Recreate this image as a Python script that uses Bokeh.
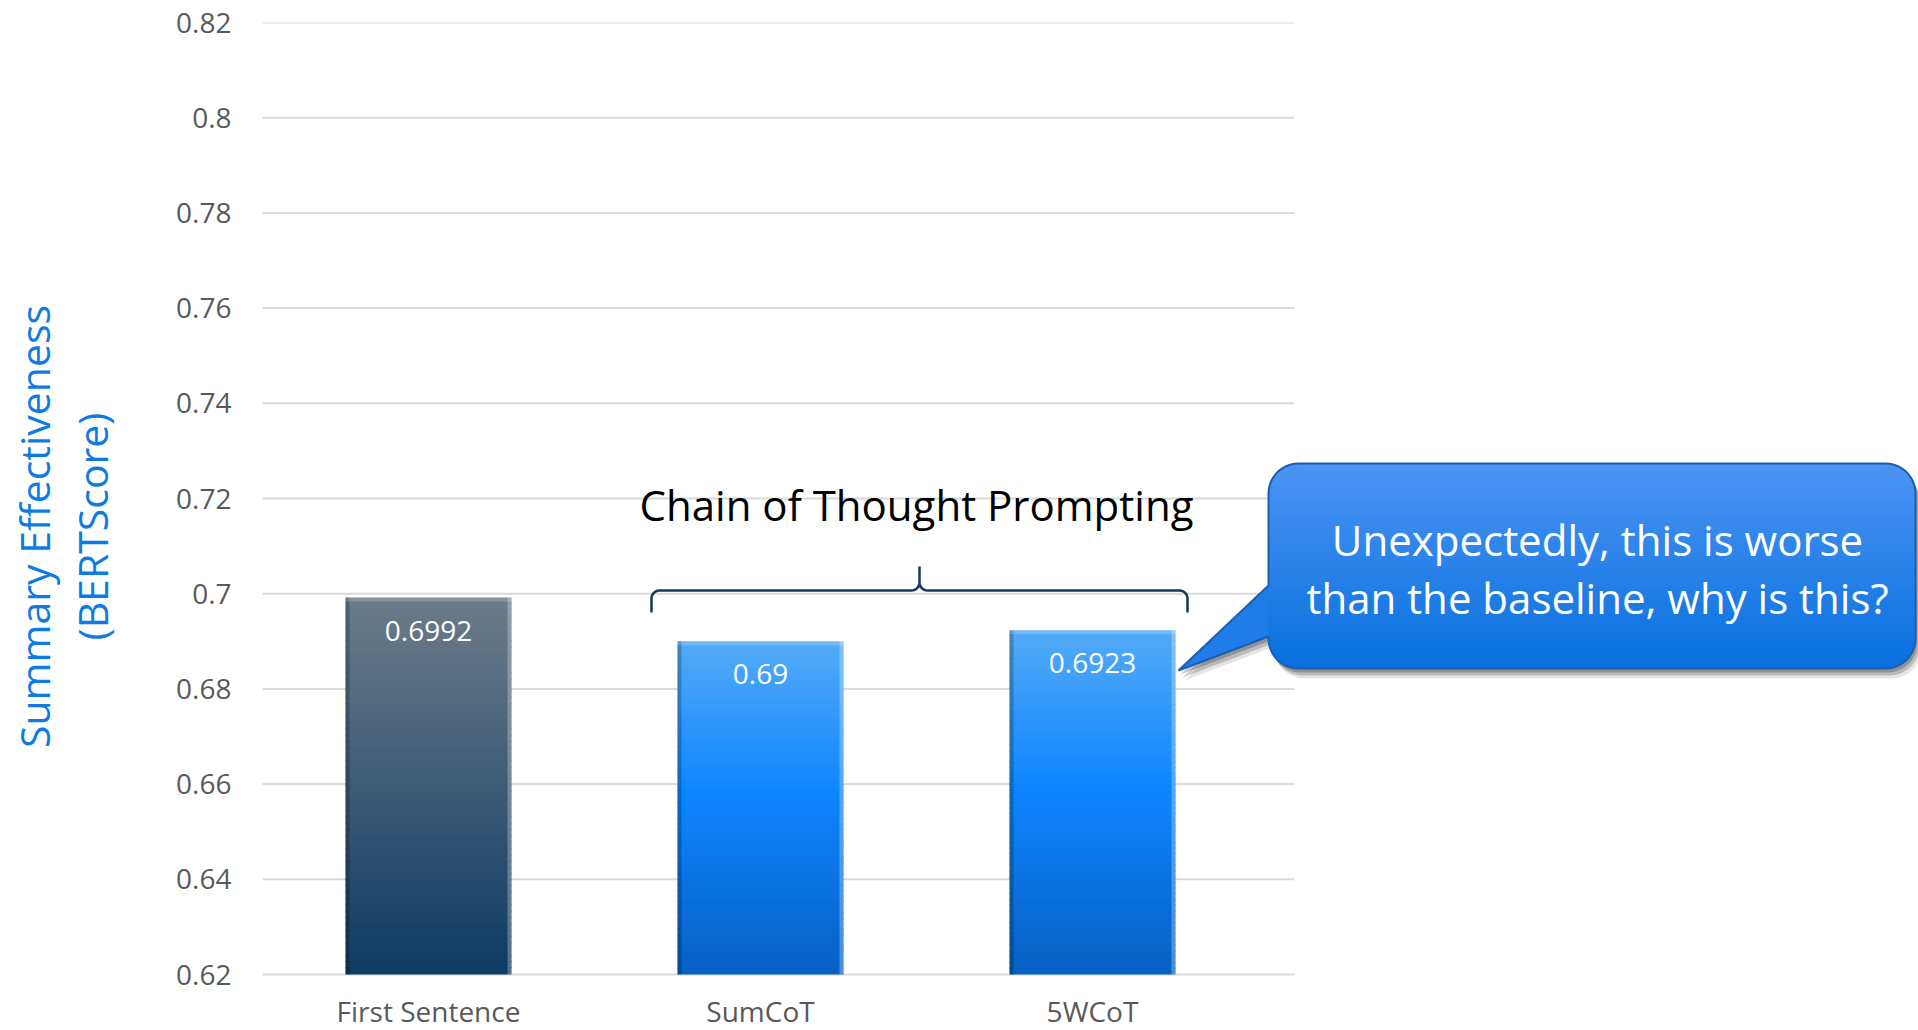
import numpy as np
from bokeh.plotting import figure
from bokeh.models import Range1d, FixedTicker, Label
from bokeh.embed import file_html
from bokeh.resources import INLINE
from bokeh.core.properties import value

# ---------------- data ----------------
categories = ["First Sentence", "SumCoT", "5WCoT"]
scores = [0.6992, 0.69, 0.6923]
score_labels = ["0.6992", "0.69", "0.6923"]
y_ticks = [0.62, 0.64, 0.66, 0.68, 0.70, 0.72, 0.74, 0.76, 0.78, 0.80, 0.82]
y_tick_labels = ["0.62", "0.64", "0.66", "0.68", "0.7", "0.72", "0.74", "0.76", "0.78", "0.8", "0.82"]
axis_title = ["Summary Effectiveness", "(BERTScore)"]
group_label = "Chain of Thought Prompting"
group_members = [1, 2]
callout_lines = ["Unexpectedly, this is worse", "than the baseline, why is this?"]

# ---------------- styles ----------------
bar_stops = [
    [(0.0, "#6B7C8A"), (1.0, "#0F3A62")],
    [(0.0, "#55ABF6"), (0.45, "#0E86FF"), (1.0, "#0760C4")],
    [(0.0, "#55ABF6"), (0.45, "#0E86FF"), (1.0, "#0760C4")],
]
FONT = "Open Sans"
W, H = 1918, 1030
FL, FR, FT, FB = 262, 1918, 22, 974      # FB: pixel row of the baseline value
PX_PER_CAT = 332.0
BAR_W = 0.5
x0 = -0.5
x_end = x0 + (FR - FL) / PX_PER_CAT
y_lo, y_hi = y_ticks[0], y_ticks[-1]
PX_PER_Y = (FB - FT) / (y_hi - y_lo)


def X(px):
    return x0 + (px - FL) / PX_PER_CAT


def Y(py):
    return y_hi - (py - FT) / PX_PER_Y


def hex2rgb(h):
    h = h.lstrip("#")
    return np.array([int(h[i:i + 2], 16) for i in (0, 2, 4)], dtype=float)


def grad(stops, t):
    t = min(max(t, 0.0), 1.0)
    for (t0, c0), (t1, c1) in zip(stops[:-1], stops[1:]):
        if t0 <= t <= t1:
            f = (t - t0) / (t1 - t0) if t1 > t0 else 0
            c = hex2rgb(c0) * (1 - f) + hex2rgb(c1) * f
            return "#%02x%02x%02x" % tuple(int(round(v)) for v in c)
    return stops[-1][1]


p = figure(width=W, height=H, x_range=Range1d(x0, x_end), y_range=Range1d(Y(H), y_hi),
           output_backend="svg", toolbar_location=None, x_axis_location=None,
           min_border_left=FL, min_border_right=0, min_border_top=FT, min_border_bottom=0)
p.outline_line_color = None
p.background_fill_color = "white"
p.border_fill_color = "white"
p.xgrid.visible = False
p.ygrid.visible = False

# y axis
p.yaxis.ticker = FixedTicker(ticks=y_ticks)
p.yaxis.major_label_overrides = {t: s for t, s in zip(y_ticks, y_tick_labels)}
p.yaxis.axis_line_color = None
p.yaxis.major_tick_line_color = None
p.yaxis.minor_tick_line_color = None
p.yaxis.major_label_standoff = 25
p.yaxis.major_label_text_font = FONT
p.yaxis.major_label_text_font_size = "28px"
p.yaxis.major_label_text_color = "#595959"
p.yaxis.axis_label = "\n".join(axis_title)
p.yaxis.axis_label_text_font = FONT
p.yaxis.axis_label_text_font_size = "41px"
p.yaxis.axis_label_text_font_style = "normal"
p.yaxis.axis_label_text_color = "#0F7BE2"
p.yaxis.axis_label_text_line_height = 1.04
p.yaxis.axis_label_standoff = 53

# gridlines (stop at the plot area's right edge)
p.segment(x0=[X(FL)] * len(y_ticks), x1=[X(1294)] * len(y_ticks), y0=y_ticks, y1=y_ticks,
          line_color="#D9D9D9", line_width=2)

xs_idx = list(range(len(categories)))

# bars with vertical gradient
N = 60
L_, R_, B_, T_, C_ = [], [], [], [], []
for i, v in enumerate(scores):
    edges = np.linspace(v, y_lo, N + 1)
    for k in range(N):
        L_.append(i - BAR_W / 2)
        R_.append(i + BAR_W / 2)
        T_.append(edges[k] + (0.0002 if k > 0 else 0))
        B_.append(edges[k + 1])
        C_.append(grad(bar_stops[i], (k + 0.5) / N))
p.quad(left=L_, right=R_, bottom=B_, top=T_, fill_color=C_, line_color=None)

# bevel edges
edge = 4 / PX_PER_CAT
p.quad(left=[i - BAR_W / 2 for i in xs_idx], right=[i - BAR_W / 2 + edge for i in xs_idx],
       bottom=[y_lo] * 3, top=scores, fill_color="black", fill_alpha=0.22, line_color=None)
p.quad(left=[i + BAR_W / 2 - edge for i in xs_idx], right=[i + BAR_W / 2 for i in xs_idx],
       bottom=[y_lo] * 3, top=scores, fill_color="white", fill_alpha=0.28, line_color=None)
p.quad(left=[i - BAR_W / 2 for i in xs_idx], right=[i + BAR_W / 2 for i in xs_idx],
       bottom=[v - 4 / PX_PER_Y for v in scores], top=scores, fill_color="white",
       fill_alpha=0.18, line_color=None)

# value labels
p.text(x=xs_idx, y=[v - 33 / PX_PER_Y for v in scores], text=score_labels,
       text_font=value(FONT), text_font_size="28px", text_color="white",
       text_align="center", text_baseline="middle")

# category labels
p.text(x=xs_idx, y=[Y(1010)] * len(categories), text=categories,
       text_font=value(FONT), text_font_size="28px", text_color="#595959",
       text_align="center", text_baseline="middle")

# brace over the chain-of-thought group
gl = min(group_members) - BAR_W / 2
gr = max(group_members) + BAR_W / 2
bl_px = FL + (gl - x0) * PX_PER_CAT - 26
br_px = FL + (gr - x0) * PX_PER_CAT + 12
mid_px = (bl_px + br_px) / 2
yl, ytop, yend = 590, 566, 612
r = 8


def arc(cx, cy, rad, a0, a1, n=8):
    a = np.linspace(a0, a1, n)
    return list(cx + rad * np.cos(a)), list(cy + rad * np.sin(a))


bx, by = [bl_px], [yend]
ax_, ay_ = arc(bl_px + r, yl + r, r, np.pi, 1.5 * np.pi)
bx += ax_; by += ay_
ax_, ay_ = arc(mid_px - r, yl - r, r, 0.5 * np.pi, 0.0)
bx += ax_; by += ay_
bx += [mid_px, mid_px]; by += [yl - r, ytop]
bx += [mid_px]; by += [yl - r]
ax_, ay_ = arc(mid_px + r, yl - r, r, np.pi, 0.5 * np.pi)
bx += ax_; by += ay_
ax_, ay_ = arc(br_px - r, yl + r, r, 1.5 * np.pi, 2 * np.pi)
bx += ax_; by += ay_
bx += [br_px]; by += [yend]
p.line(x=[X(v) for v in bx], y=[Y(v) for v in by], line_color="#17375E", line_width=2.5)

p.add_layout(Label(x=X(mid_px - 3), y=Y(504), text=group_label, text_font=FONT,
                   text_font_size="42px", text_color="black",
                   text_align="center", text_baseline="middle"))

# callout
CL, CR, CT, CB, CRAD = 1268, 1915, 463, 668, 30
tail_top, tail_bot = 585, 636
tip = (1178, 670)


def outline():
    xs, ys = [], []
    for (cx, cy, a0, a1) in [(CL + CRAD, CT + CRAD, np.pi, 1.5 * np.pi),
                              (CR - CRAD, CT + CRAD, 1.5 * np.pi, 2 * np.pi),
                              (CR - CRAD, CB - CRAD, 0, 0.5 * np.pi),
                              (CL + CRAD, CB - CRAD, 0.5 * np.pi, np.pi)]:
        a, b = arc(cx, cy, CRAD, a0, a1, 12)
        xs += a; ys += b
    xs += [CL, tip[0], CL, CL]
    ys += [tail_bot, tip[1], tail_top, CT + CRAD]
    return xs, ys


ox, oy = outline()
# shadow
for dx, dy, al in [(6, 10, 0.10), (4, 7, 0.18), (2, 4, 0.22)]:
    p.patch(x=[X(v + dx) for v in ox], y=[Y(v + dy) for v in oy], fill_color="black",
            fill_alpha=al, line_color=None)
# base fill
p.patch(x=[X(v) for v in ox], y=[Y(v) for v in oy], fill_color="#1F7CE8", line_color=None)

box_stops = [(0.0, "#4C94F3"), (1.0, "#0870DE")]


def inset(py):
    d = min(py - CT, CB - py)
    if d >= CRAD:
        return 0.0
    d = max(d, 0.0)
    return CRAD - np.sqrt(max(CRAD ** 2 - (CRAD - d) ** 2, 0.0))


NS = 90
ed = np.linspace(CT, CB, NS + 1)
pxs, pys, pcs = [], [], []
for k in range(NS):
    a, b = ed[k], ed[k + 1] + 0.6
    b = min(b, CB)
    ia, ib = inset(a), inset(b)
    pxs.append([X(CL + ia), X(CR - ia), X(CR - ib), X(CL + ib)])
    pys.append([Y(a), Y(a), Y(b), Y(b)])
    pcs.append(grad(box_stops, (k + 0.5) / NS))
p.patches(xs=pxs, ys=pys, fill_color=pcs, line_color=None)

p.line(x=[X(v) for v in ox] + [X(ox[0])], y=[Y(v) for v in oy] + [Y(oy[0])],
       line_color="#1B5FB0", line_width=2)

for txt, py in zip(callout_lines, [539, 597]):
    p.add_layout(Label(x=X(1597), y=Y(py), text=txt, text_font=FONT,
                       text_font_size="42px", text_color="white",
                       text_align="center", text_baseline="middle"))

open("out.html", "w").write(file_html(p, INLINE))
